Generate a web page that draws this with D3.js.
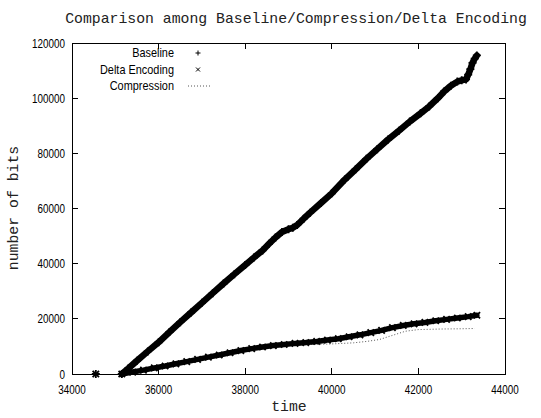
<!DOCTYPE html>
<html>
<head>
<meta charset="utf-8">
<script src="https://cdn.jsdelivr.net/npm/d3@7"></script>
<style>
  body { margin: 0; background: #fff; }
  .tick-label { font-family: "Liberation Sans", Arial, sans-serif; font-size: 13px; }
  .mono { font-family: "Liberation Mono", "DejaVu Sans Mono", monospace; font-size: 14.8px; fill: #222; }
</style>
</head>
<body>
<div id="main"></div>
<script>
const Width = 541, Height = 418;

// Baseline
const baselineTime = [34550, 35150, 35300, 35500, 35750, 36000, 36250, 36500, 36750, 37000, 37250, 37500, 37750, 38000, 38200, 38400, 38550, 38700, 38850, 39000, 39100, 39200, 39350, 39500, 39750, 40000, 40300, 40550, 40800, 41050, 41300, 41550, 41800, 42050, 42250, 42450, 42600, 42750, 42900, 43000, 43100, 43150, 43200, 43250, 43300, 43350];
const baselineBits = [0, 0, 2000, 4800, 8200, 11500, 15200, 18800, 22300, 25800, 29300, 32800, 36200, 39500, 42200, 44800, 47200, 49500, 51500, 52500, 53000, 54000, 56300, 58500, 62000, 65500, 70500, 74200, 78000, 81500, 85000, 88200, 91500, 94500, 97000, 100000, 102500, 104500, 106000, 106500, 106800, 108500, 110500, 112800, 114300, 115500];

// Delta Encoding
const deltaTime = [34550, 35150, 35400, 35650, 35900, 36150, 36400, 36650, 36900, 37150, 37400, 37650, 37900, 38150, 38400, 38650, 38900, 39150, 39400, 39650, 39900, 40150, 40400, 40650, 40900, 41150, 41400, 41650, 41900, 42150, 42400, 42650, 42900, 43150, 43350];
const deltaBits = [0, 0, 700, 1400, 2200, 2900, 3700, 4500, 5300, 6100, 6900, 7700, 8500, 9200, 9800, 10300, 10700, 11100, 11400, 11800, 12300, 12800, 13500, 14200, 15000, 15800, 16800, 17600, 18200, 18700, 19300, 19800, 20300, 20800, 21300];

// Compression
const compTime = [35150, 35500, 36000, 36500, 37000, 37500, 38000, 38500, 39000, 39500, 40000, 40500, 40800, 41100, 41400, 41700, 42000, 42500, 43000, 43300];
const compBits = [0, 900, 2300, 3800, 5300, 6900, 8400, 9500, 10300, 10700, 10900, 11300, 11800, 12500, 14000, 15500, 16100, 16300, 16400, 16500];

const xTicks = [34000, 36000, 38000, 40000, 42000, 44000];
const yTicks = [0, 20000, 40000, 60000, 80000, 100000, 120000];

const margin = {left: 72, top: 43, right: 36, bottom: 44};

const svg = d3.select("#main")
    .append("svg")
    .attr("width", Width)
    .attr("height", Height);

const Xscale = d3.scaleLinear().domain([34000, 44000]).range([margin.left, Width - margin.right]);
const Yscale = d3.scaleLinear().domain([0, 120000]).range([Height - margin.bottom, margin.top]);

const x0 = Xscale.range()[0], x1 = Xscale.range()[1];
const y0 = Yscale.range()[0], y1 = Yscale.range()[1];

// axes, gnuplot style: inward ticks mirrored on all four sides
const ax = svg.append("g").attr("stroke", "#000").attr("stroke-width", 1).attr("shape-rendering", "crispEdges");
ax.selectAll(".xt").data(xTicks).enter().append("path")
    .attr("d", d => `M${Xscale(d)},${y0}v-6M${Xscale(d)},${y1}v6`);
ax.selectAll(".yt").data(yTicks).enter().append("path")
    .attr("d", d => `M${x0},${Yscale(d)}h6M${x1},${Yscale(d)}h-6`);
ax.append("rect").attr("x", x0).attr("y", y1).attr("width", x1 - x0).attr("height", y0 - y1).attr("fill", "none");

// narrow helvetica look: squeeze horizontally
const narrow = 0.76;
svg.append("g").selectAll("text").data(xTicks).enter().append("text")
    .attr("class", "tick-label")
    .attr("transform", d => `translate(${Xscale(d)},${y0 + 20}) scale(${narrow},1)`)
    .attr("text-anchor", "middle")
    .text(d => d);
svg.append("g").selectAll("text").data(yTicks).enter().append("text")
    .attr("class", "tick-label")
    .attr("transform", d => `translate(${x0 - 7},${Yscale(d) + 4.5}) scale(${narrow},1)`)
    .attr("text-anchor", "end")
    .text(d => d);

svg.append("text").attr("class", "mono")
    .attr("x", 296).attr("y", 23).attr("text-anchor", "middle")
    .text("Comparison among Baseline/Compression/Delta Encoding");
svg.append("text").attr("class", "mono")
    .attr("x", 289).attr("y", 411).attr("text-anchor", "middle")
    .text("time");
svg.append("text").attr("class", "mono")
    .attr("transform", "translate(18,208) rotate(-90)")
    .attr("text-anchor", "middle")
    .text("number of bits");

const plus = "M-4,0H4M0,-4V4";
const cross = "M-3.2,-3.2L3.2,3.2M-3.2,3.2L3.2,-3.2";

const line = d3.line().x(d => Xscale(d[0])).y(d => Yscale(d[1]));

function band(times, bits, marker, w) {
    const pts = d3.zip(times, bits);
    const g = svg.append("g");
    g.append("path").datum(pts.slice(1)).attr("d", line)
        .attr("fill", "none").attr("stroke", "#000").attr("stroke-width", w)
        .attr("stroke-linejoin", "round").attr("stroke-linecap", "round");
    g.selectAll("path.m").data(pts).enter().append("path")
        .attr("class", "m")
        .attr("transform", d => `translate(${Xscale(d[0])},${Yscale(d[1])})`)
        .attr("d", marker)
        .attr("stroke", "#000").attr("stroke-width", 1.8).attr("fill", "none");
}

// compression dotted line
svg.append("path").datum(d3.zip(compTime, compBits)).attr("d", line)
    .attr("fill", "none").attr("stroke", "#555").attr("stroke-width", 1)
    .attr("stroke-dasharray", "1,2");

band(deltaTime, deltaBits, cross, 5.5);
band(baselineTime, baselineBits, plus, 6.5);

// legend
const leg = svg.append("g");
const legNames = ["Baseline", "Delta Encoding", "Compression"];
leg.selectAll("text").data(legNames).enter().append("text")
    .attr("class", "tick-label")
    .attr("transform", (d, i) => `translate(174,${57 + i * 16.5}) scale(0.84,1)`)
    .attr("text-anchor", "end")
    .text(d => d);
leg.append("path").attr("transform", "translate(198,53)").attr("d", "M-2.5,0H2.5M0,-2.5V2.5")
    .attr("stroke", "#000").attr("stroke-width", 1);
leg.append("path").attr("transform", "translate(198,69.5)").attr("d", "M-2,-2L2,2M-2,2L2,-2")
    .attr("stroke", "#000").attr("stroke-width", 1);
leg.append("path").attr("d", "M188,86H212")
    .attr("stroke", "#555").attr("stroke-width", 1).attr("stroke-dasharray", "1,2");
</script>
</body>
</html>
